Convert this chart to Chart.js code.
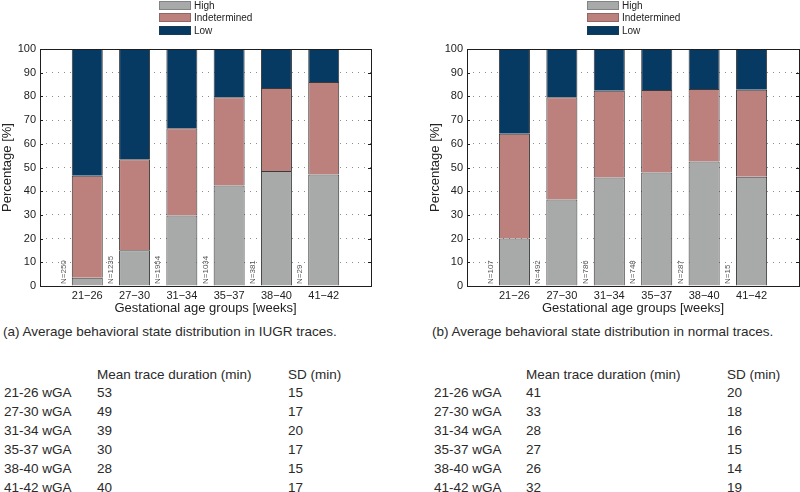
<!DOCTYPE html>
<html><head><meta charset="utf-8">
<script src="https://cdn.jsdelivr.net/npm/chart.js@4"></script>
<style>
body{margin:0;width:800px;height:492px;overflow:hidden;background:#fff;font-family:"Liberation Sans",Arial,sans-serif;color:#222;position:relative}
.chart{position:absolute;top:0;width:400px;height:320px}
.legend{position:absolute;top:0;font-size:10px;color:#222}
.li{position:absolute;left:0;height:9px;white-space:nowrap}
.sw{position:absolute;left:0;top:0;width:32px;height:9px}
.lt{position:absolute;left:35px;top:-2px;line-height:13px}
.t{position:absolute;white-space:nowrap;font-size:13.5px;line-height:16px;color:#2a2a2a}
</style></head>
<body>
<div class="chart" style="left:0"><canvas id="c1" width="400" height="320"></canvas></div>
<div class="chart" style="left:400px"><canvas id="c2" width="400" height="320"></canvas></div>
<div id="lg1" class="legend" style="left:159px"></div>
<div id="lg2" class="legend" style="left:587px"></div>
<div id="txt"></div>
<script>
// ---- data ----
const categories = ['21\u221226','27\u221230','31\u221234','35\u221237','38\u221240','41\u221242'];
const seriesNames = ['High','Indetermined','Low'];
const iugrHigh  = [3.5, 15.1, 29.7, 42.4, 48.5, 47.0];
const iugrIndet = [43.0, 38.4, 36.9, 37.2, 35.0, 39.1];
const iugrLow   = [53.5, 46.5, 33.4, 20.4, 16.5, 13.9];
const normHigh  = [20.0, 36.5, 45.8, 47.9, 52.5, 46.1];
const normIndet = [44.2, 43.1, 36.6, 34.8, 30.6, 36.7];
const normLow   = [35.8, 20.4, 17.6, 17.3, 16.9, 17.2];
const iugrN = [250, 1235, 1954, 1034, 381, 29];
const normN = [107, 492, 786, 748, 287, 15];
const yTicks = [0,10,20,30,40,50,60,70,80,90,100];
const tableRows = ['21-26 wGA','27-30 wGA','31-34 wGA','35-37 wGA','38-40 wGA','41-42 wGA'];
const iugrMean = [53, 49, 39, 30, 28, 40];
const iugrSD   = [15, 17, 20, 17, 15, 17];
const normMean = [41, 33, 28, 27, 26, 32];
const normSD   = [20, 18, 16, 15, 14, 19];
const captionA = '(a) Average behavioral state distribution in IUGR traces.';
const captionB = '(b) Average behavioral state distribution in normal traces.';
const tableHeader = ['Mean trace duration (min)','SD (min)'];

const colors = ['#a8aaa9','#bc807d','#063a63'];
const FONT = '"Liberation Sans", Arial, sans-serif';

const frame = {
  id:'frame',
  afterDatasetsDraw(chart, args, opts){
    const {ctx, chartArea:a, scales:{x,y}} = chart;
    ctx.save();
    ctx.font = '8px ' + FONT; ctx.fillStyle = '#555';
    ctx.textAlign = 'left'; ctx.textBaseline = 'middle';
    opts.n.forEach((n,i)=>{
      const px = x.getPixelForValue(i+0.5);
      ctx.save(); ctx.translate(px, a.bottom-2); ctx.rotate(-Math.PI/2);
      ctx.fillText('N='+n, 0, 0); ctx.restore();
    });
    ctx.strokeStyle = '#1e1e1e'; ctx.lineWidth = 1;
    y.ticks.forEach(t=>{
      const py = Math.round(y.getPixelForValue(t.value))+0.5;
      ctx.beginPath();
      ctx.moveTo(a.left,py); ctx.lineTo(a.left+3,py);
      ctx.moveTo(a.right,py); ctx.lineTo(a.right-3,py);
      ctx.stroke();
    });
    ctx.strokeRect(Math.round(a.left)+0.5, Math.round(a.top)+0.5, Math.round(a.right-a.left), Math.round(a.bottom-a.top));
    ctx.restore();
  }
};

function makeChart(id, vals, nLabels, padLeft, padRight, yWidth){
  const datasets = vals.map((v,k)=>({
    label: seriesNames[k],
    data: v.map((val,i)=>({x:i+1, y:val})),
    backgroundColor: colors[k],
    borderColor: '#3a3a3a',
    borderWidth: 1,
    barPercentage: 0.655,
    categoryPercentage: 1
  }));
  return new Chart(document.getElementById(id), {
    type:'bar',
    data:{datasets},
    plugins:[frame],
    options:{
      responsive:false, animation:false,
      layout:{padding:{top:49,left:padLeft,right:padRight,bottom:0}},
      plugins:{legend:{display:false}, tooltip:{enabled:false}, frame:{n:nLabels}},
      scales:{
        x:{type:'linear', stacked:true, offset:false, min:0, max:categories.length+1,
           afterBuildTicks(s){ s.ticks = categories.map((c,i)=>({value:i+1})); },
           afterFit(s){ s.height = 34; },
           ticks:{callback:(v)=>categories[v-1] ?? '', font:{size:11,family:FONT}, color:'#222', padding:3, maxRotation:0, autoSkip:false},
           grid:{display:false, drawTicks:false, offset:false}, border:{display:false},
           title:{display:true, text:'Gestational age groups [weeks]', font:{size:13,family:FONT}, color:'#222', padding:{top:0,bottom:4}}},
        y:{stacked:true, min:0, max:100,
           afterBuildTicks(s){ s.ticks = yTicks.map(v=>({value:v})); },
           afterFit(s){ s.width = yWidth; },
           ticks:{font:{size:11,family:FONT}, color:'#222', padding:4},
           grid:{color:'#8c8c8c', lineWidth:1, drawTicks:false},
           border:{display:false, dash:[1,5]},
           title:{display:true, text:'Percentage [%]', font:{size:13,family:FONT}, color:'#222', padding:{top:0,bottom:0}}}
      }
    }
  });
}

const ch1 = makeChart('c1', [iugrHigh, iugrIndet, iugrLow], iugrN, 0, 29, 40);
const ch2 = makeChart('c2', [normHigh, normIndet, normLow], normN, 28, 1, 39);

function legend(elId, chart){
  const el = document.getElementById(elId);
  chart.data.datasets.forEach((d,i)=>{
    const row = document.createElement('div'); row.className='li'; row.style.top = (1 + i*12.3)+'px';
    const sw = document.createElement('div'); sw.className='sw'; sw.style.background = d.backgroundColor;
    sw.style.boxShadow = 'inset 0 0 0 1px rgba(60,60,60,0.35)';
    const tx = document.createElement('div'); tx.className='lt'; tx.textContent = d.label;
    row.appendChild(sw); row.appendChild(tx); el.appendChild(row);
  });
}
legend('lg1', ch1); legend('lg2', ch2);

const txt = document.getElementById('txt');
function put(s, x, cy){
  const d = document.createElement('div'); d.className='t';
  d.style.left = x+'px'; d.style.top = (cy-8)+'px'; d.textContent = s; txt.appendChild(d);
}
put(captionA, 3, 332);
put(captionB, 432, 332);
function table(x0, x1, x2, mean, sd){
  put(tableHeader[0], x1, 375); put(tableHeader[1], x2, 375);
  tableRows.forEach((r,i)=>{
    const cy = 393.4 + 18.9*i;
    put(r, x0, cy); put(String(mean[i]), x1, cy); put(String(sd[i]), x2, cy);
  });
}
table(4, 97, 288, iugrMean, iugrSD);
table(434, 526, 727, normMean, normSD);
</script>
</body></html>
